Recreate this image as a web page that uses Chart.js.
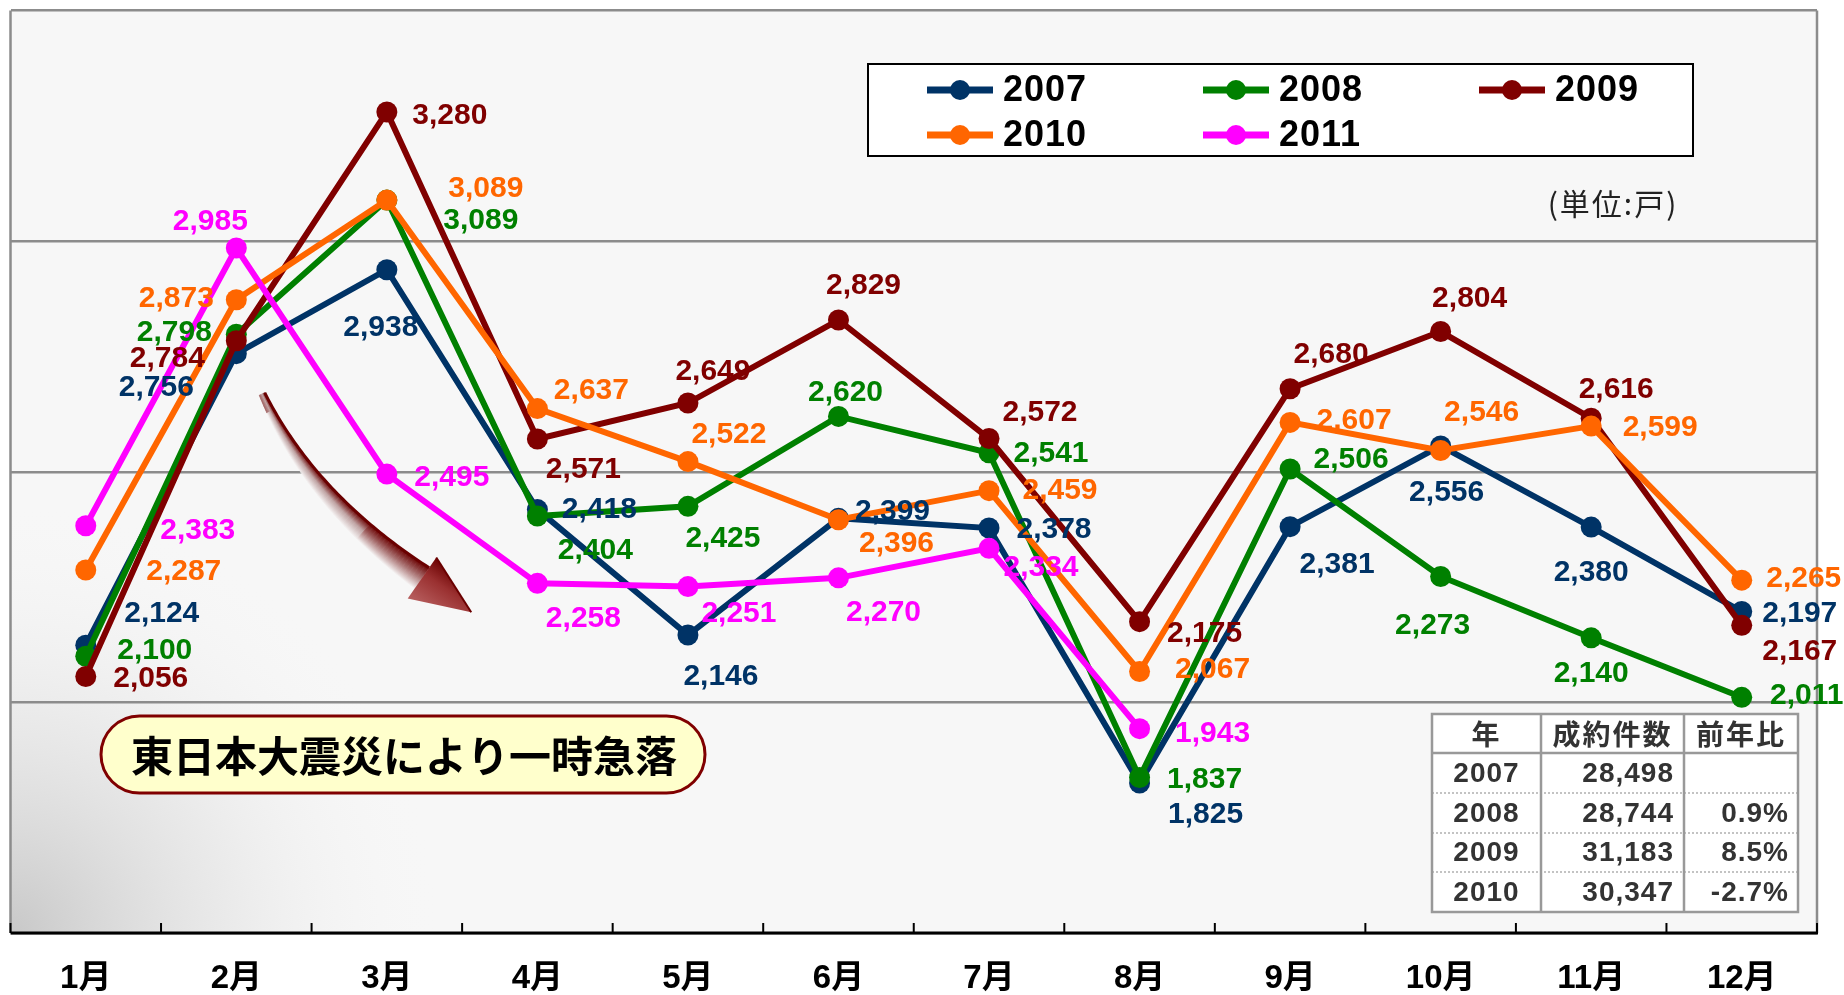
<!DOCTYPE html>
<html><head><meta charset="utf-8">
<script src="https://cdn.jsdelivr.net/npm/chart.js@4.4.1/dist/chart.umd.min.js"></script>
<style>html,body{margin:0;padding:0;background:#fff;}canvas{display:block;}</style>
</head><body>
<canvas id="c" width="1844" height="995"></canvas>
<script>
// ---- data ----
const months = ['1月','2月','3月','4月','5月','6月','7月','8月','9月','10月','11月','12月'];
const seriesNames = ['2007','2008','2009','2010','2011'];
const v2007 = [2124,2756,2938,2418,2146,2399,2378,1825,2381,2556,2380,2197];
const v2008 = [2100,2798,3089,2404,2425,2620,2541,1837,2506,2273,2140,2011];
const v2009 = [2056,2784,3280,2571,2649,2829,2572,2175,2680,2804,2616,2167];
const v2010 = [2287,2873,3089,2637,2522,2396,2459,2067,2607,2546,2599,2265];
const v2011 = [2383,2985,2495,2258,2251,2270,2334,1943,null,null,null,null];
const yMin = 1500, yMax = 3500, yStep = 500;
const tableHead = ['年','成約件数','前年比'];
const tableYears = ['2007','2008','2009','2010'];
const tableTotals = ['28,498','28,744','31,183','30,347'];
const tableRatios = ['','0.9%','8.5%','-2.7%'];
const noteText = '東日本大震災により一時急落';
const unitText = '(単位:戸)';

// ---- styles / layout ----
const colors = ['#003366','#008000','#800000','#ff6600','#ff00ff'];
const labelOffsets = [
  [[76,-31],[-80,34],[-6,58],[62,0],[33,42],[54,-7],[65,2],[66,32],[47,38],[6,47],[0,46],[58,2]],
  [[69,-6],[-62,-2],[94,21],[58,35],[35,32],[7,-24],[62,1],[65,2],[61,-9],[-8,49],[0,36],[65,-2]],
  [[65,2],[-69,18],[63,4],[46,31],[25,-31],[25,-34],[51,-26],[65,12],[41,-34],[29,-33],[25,-29],[58,26]],
  [[98,2],[-60,-1],[99,-11],[54,-18],[41,-27],[58,24],[71,0],[73,-2],[64,-2],[41,-38],[69,2],[62,-1]],
  [[112,5],[-26,-26],[65,4],[46,35],[51,27],[45,35],[52,19],[73,5]]
];
const FONT_LAT = '"Liberation Sans","Noto Sans CJK JP",sans-serif';
const FONT_JP = '"Noto Sans CJK JP","Liberation Sans",sans-serif';

const allValues = [v2007,v2008,v2009,v2010,v2011];
const datasets = allValues.map((vals,i)=>({
  label: seriesNames[i],
  data: vals,
  borderColor: colors[i],
  backgroundColor: colors[i],
  borderWidth: 6,
  pointRadius: 10.5,
  pointHoverRadius: 10.5,
  pointBorderWidth: 0,
  tension: 0,
  spanGaps: false,
  order: 4 - i
}));

function drawArrow(ctx){
  const P0={x:262,y:394}, C={x:310,y:500}, P1={x:422,y:578};
  const N=60, L=[], R=[];
  for(let i=0;i<=N;i++){
    const t=i/N;
    const x=(1-t)*(1-t)*P0.x+2*t*(1-t)*C.x+t*t*P1.x;
    const y=(1-t)*(1-t)*P0.y+2*t*(1-t)*C.y+t*t*P1.y;
    const dx=2*(1-t)*(C.x-P0.x)+2*t*(P1.x-C.x);
    const dy=2*(1-t)*(C.y-P0.y)+2*t*(P1.y-C.y);
    const len=Math.hypot(dx,dy), nx=-dy/len, ny=dx/len;
    const w=3+9.5*t;
    L.push([x+nx*w,y+ny*w]); R.push([x-nx*w,y-ny*w]);
  }
  for(let i=0;i<N;i++){
    const t=i/N;
    const a=L[i], b=L[i+1], c=R[i+1], d=R[i];
    const g=ctx.createLinearGradient((a[0]+b[0])/2,(a[1]+b[1])/2,(c[0]+d[0])/2,(c[1]+d[1])/2);
    const tail = Math.max(0,1-t*6);
    g.addColorStop(0, tail>0.5?'#a06060':'#f2eeee');
    g.addColorStop(0.5, t>0.7?'#a87070':'#c0a4a4');
    g.addColorStop(1, '#6a0000');
    ctx.fillStyle=g;
    ctx.beginPath();
    ctx.moveTo(a[0],a[1]);ctx.lineTo(b[0],b[1]);ctx.lineTo(c[0],c[1]);ctx.lineTo(d[0],d[1]);ctx.closePath();
    ctx.fill();
    ctx.strokeStyle=g; ctx.lineWidth=0.8; ctx.stroke();
  }
  ctx.strokeStyle='#6a0000'; ctx.lineWidth=3; ctx.beginPath();
  R.forEach((p,i)=> i?ctx.lineTo(p[0],p[1]):ctx.moveTo(p[0],p[1])); ctx.stroke();
  const dx=P1.x-C.x, dy=P1.y-C.y, len=Math.hypot(dx,dy), ux=dx/len, uy=dy/len, nx=-uy, ny=ux;
  const A=[P1.x+nx*25,P1.y+ny*25], B=[P1.x-nx*25,P1.y-ny*25], T=[P1.x+ux*60,P1.y+uy*60];
  const gh=ctx.createLinearGradient(A[0],A[1],B[0],B[1]);
  gh.addColorStop(0,'#b86060'); gh.addColorStop(0.6,'#9a3030'); gh.addColorStop(1,'#6a0000');
  ctx.fillStyle=gh; ctx.beginPath(); ctx.moveTo(A[0],A[1]); ctx.lineTo(T[0],T[1]); ctx.lineTo(B[0],B[1]); ctx.closePath(); ctx.fill();
  ctx.strokeStyle='#6a0000'; ctx.lineWidth=2; ctx.beginPath(); ctx.moveTo(B[0],B[1]); ctx.lineTo(T[0],T[1]); ctx.stroke();
}

const deco = {
  id:'deco',
  beforeDraw(chart){
    const {ctx, chartArea:a} = chart;
    ctx.save();
    ctx.fillStyle='#fff'; ctx.fillRect(0,0,chart.width,chart.height);
    ctx.fillStyle='#f7f7f7'; ctx.fillRect(a.left,a.top,a.right-a.left,a.bottom-a.top);
    const g=ctx.createRadialGradient(a.left,a.bottom,0,a.left,a.bottom,430);
    g.addColorStop(0,'rgba(200,200,200,1)'); g.addColorStop(0.5,'rgba(225,225,225,0.6)'); g.addColorStop(1,'rgba(247,247,247,0)');
    ctx.fillStyle=g; ctx.fillRect(a.left,a.top,a.right-a.left,a.bottom-a.top);
    ctx.strokeStyle='#8c8c8c'; ctx.lineWidth=2.5;
    ctx.beginPath(); ctx.moveTo(a.left,a.top); ctx.lineTo(a.left,a.bottom); ctx.moveTo(a.right,a.top); ctx.lineTo(a.right,a.bottom); ctx.stroke();
    ctx.restore();
  },
  afterDatasetsDraw(chart){
    const {ctx, chartArea:a} = chart;
    const xs = chart.scales.x;
    ctx.save();
    const sp = xs.getPixelForValue(1)-xs.getPixelForValue(0);
    ctx.strokeStyle='#000'; ctx.lineWidth=2;
    ctx.beginPath();
    for(let i=0;i<=months.length;i++){
      const x = xs.getPixelForValue(0)-sp/2+i*sp;
      ctx.moveTo(x,a.bottom-10); ctx.lineTo(x,a.bottom);
    }
    ctx.stroke();
    ctx.lineWidth=3; ctx.beginPath(); ctx.moveTo(a.left,a.bottom); ctx.lineTo(a.right+1,a.bottom); ctx.stroke();

    drawArrow(ctx);

    ctx.fillStyle='#ffffcc'; ctx.strokeStyle='#800000'; ctx.lineWidth=3;
    ctx.beginPath(); ctx.roundRect(101,716,604,77,38.5); ctx.fill(); ctx.stroke();
    ctx.fillStyle='#000'; ctx.font='bold 42px '+FONT_JP; ctx.textAlign='center'; ctx.textBaseline='middle';
    ctx.fillText(noteText,404,756);

    ctx.fillStyle='#222'; ctx.font='30px '+FONT_JP; ctx.letterSpacing='2px';
    ctx.fillText(unitText,1613,204);
    ctx.letterSpacing='0px';

    ctx.font='bold 30px '+FONT_LAT; ctx.textAlign='center'; ctx.textBaseline='middle';
    chart.data.datasets.forEach((ds,i)=>{
      const meta=chart.getDatasetMeta(i);
      ds.data.forEach((v,j)=>{
        if(v==null) return;
        const p=meta.data[j]; const o=labelOffsets[i][j];
        ctx.fillStyle=colors[i];
        ctx.fillText(v.toLocaleString('en-US'), p.x+o[0], p.y+o[1]);
      });
    });

    ctx.fillStyle='#fff'; ctx.fillRect(868,64,825,92);
    ctx.strokeStyle='#000'; ctx.lineWidth=2; ctx.strokeRect(868,64,825,92);
    const colX=[927,1203,1479], rowY=[90,135];
    ctx.font='bold 36px '+FONT_LAT; ctx.textAlign='left'; ctx.textBaseline='middle';
    ctx.letterSpacing='1px';
    seriesNames.forEach((n,i)=>{
      const x=colX[i%3], y=rowY[Math.floor(i/3)];
      ctx.strokeStyle=colors[i]; ctx.lineWidth=7;
      ctx.beginPath(); ctx.moveTo(x,y); ctx.lineTo(x+66,y); ctx.stroke();
      ctx.fillStyle=colors[i]; ctx.beginPath(); ctx.arc(x+33,y,10,0,Math.PI*2); ctx.fill();
      ctx.fillStyle='#000'; ctx.fillText(n,x+76,y+1);
    });
    ctx.letterSpacing='0px';

    const tx=[1432,1541,1684,1798], ty=[714,753,793,833,872,912];
    ctx.fillStyle='#fff'; ctx.fillRect(tx[0],ty[0],tx[3]-tx[0],ty[5]-ty[0]);
    ctx.strokeStyle='#b0b0b0'; ctx.lineWidth=1.5; ctx.setLineDash([2,2]);
    ctx.beginPath();
    for(let r=2;r<5;r++){ctx.moveTo(tx[0],ty[r]);ctx.lineTo(tx[3],ty[r]);}
    ctx.stroke(); ctx.setLineDash([]);
    ctx.strokeStyle='#999'; ctx.lineWidth=2.5;
    ctx.strokeRect(tx[0],ty[0],tx[3]-tx[0],ty[5]-ty[0]);
    ctx.beginPath();
    ctx.moveTo(tx[0],ty[1]);ctx.lineTo(tx[3],ty[1]);
    ctx.moveTo(tx[1],ty[0]);ctx.lineTo(tx[1],ty[5]);
    ctx.moveTo(tx[2],ty[0]);ctx.lineTo(tx[2],ty[5]);
    ctx.stroke();
    ctx.fillStyle='#333'; ctx.textBaseline='middle';
    ctx.font='bold 28px '+FONT_JP; ctx.textAlign='center'; ctx.letterSpacing='2px';
    tableHead.forEach((h,k)=> ctx.fillText(h,(tx[k]+tx[k+1])/2,(ty[0]+ty[1])/2+1));
    ctx.font='bold 28px '+FONT_LAT; ctx.letterSpacing='1px';
    tableYears.forEach((yv,r)=>{
      const cy=(ty[r+1]+ty[r+2])/2+1;
      ctx.textAlign='center'; ctx.fillText(yv,(tx[0]+tx[1])/2,cy);
      ctx.textAlign='right'; ctx.fillText(tableTotals[r],tx[2]-10,cy);
      ctx.fillText(tableRatios[r],tx[3]-9,cy);
    });
    ctx.letterSpacing='0px';
    ctx.restore();
  }
};

new Chart(document.getElementById('c'), {
  type:'line',
  data:{labels:months, datasets},
  options:{
    responsive:false, animation:false, devicePixelRatio:1,
    layout:{padding:{left:10,top:8,right:27,bottom:0}},
    plugins:{legend:{display:false}, tooltip:{enabled:false}},
    events:[],
    scales:{
      x:{
        offset:true,
        grid:{display:false, drawTicks:false},
        border:{display:false},
        ticks:{color:'#000', font:{family:FONT_LAT, size:33, weight:'bold'}, padding:26, maxRotation:0, autoSkip:false},
        afterFit(s){ s.height = 62; }
      },
      y:{
        min:yMin, max:yMax,
        ticks:{display:false, stepSize:yStep},
        grid:{color:'#8c8c8c', lineWidth:2.5, drawTicks:false},
        border:{display:false},
        afterFit(s){ s.width = 0; }
      }
    }
  },
  plugins:[deco]
});
</script>
</body></html>
